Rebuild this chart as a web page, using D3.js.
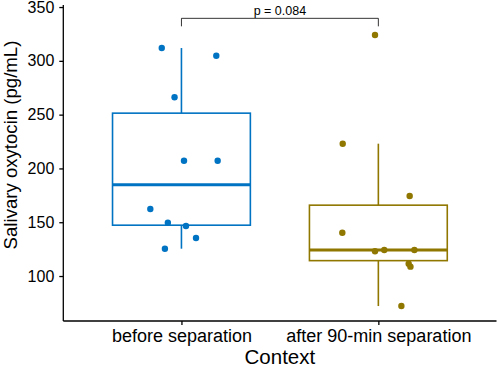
<!DOCTYPE html>
<html>
<head>
<meta charset="utf-8">
<script src="https://cdn.jsdelivr.net/npm/d3@7"></script>
<style>
  html, body { margin: 0; padding: 0; background: #fff; }
  svg { display: block; font-family: "Liberation Sans", Arial, sans-serif; }
</style>
</head>
<body>
<svg id="chart" width="498" height="368"></svg>
<script>
// ---- data ----
const categories = ["before separation", "after 90-min separation"];
const colors = ["#0073C2", "#8F7700"];
const beforeValues = [311.9, 304.7, 266.1, 207.2, 207.2, 162.3, 149.5, 146.5, 135.3, 125.4];
const afterValues  = [324.0, 223.0, 174.4, 140.2, 123.0, 124.2, 124.2, 111.4, 108.7, 72.1];
// horizontal jitter (fraction of category step) as observed
const beforeJitter = [-0.100, 0.177, -0.035, 0.013, 0.184, -0.158, -0.069, 0.023, 0.074, -0.084];
const afterJitter  = [-0.017, -0.181, 0.159, -0.183, -0.017, 0.030, 0.183, 0.154, 0.163, 0.117];
const yTicks = [100, 150, 200, 250, 300, 350];
const pLabel = "p = 0.084";
const bracketValue = 339.5;
const yTitle = "Salivary oxytocin (pg/mL)";
const xTitle = "Context";

const groups = [
  { cat: categories[0], values: beforeValues, jitter: beforeJitter, color: colors[0] },
  { cat: categories[1], values: afterValues,  jitter: afterJitter,  color: colors[1] }
];

// ---- layout ----
const svg = d3.select("#chart");
const panel = { left: 63.3, right: 496.5, top: 5, bottom: 321 };

const x = d3.scalePoint().domain(categories).range([panel.left, panel.right]).padding(0.6);
const step = x.step();
const y = d3.scaleLinear().domain([58.2, 351.9]).range([panel.bottom, panel.top]);
const boxW = step * 0.7;

// ---- boxes ----
groups.forEach(g => {
  const s = g.values.slice().sort(d3.ascending);
  const q1 = d3.quantile(s, 0.25), med = d3.quantile(s, 0.5), q3 = d3.quantile(s, 0.75);
  const iqr = q3 - q1;
  const hi = d3.max(s.filter(v => v <= q3 + 1.5 * iqr));
  const lo = d3.min(s.filter(v => v >= q1 - 1.5 * iqr));
  const cx = x(g.cat);
  const gg = svg.append("g");
  gg.append("line").attr("x1", cx).attr("x2", cx).attr("y1", y(q3)).attr("y2", y(hi))
    .attr("stroke", g.color).attr("stroke-width", 1.6);
  gg.append("line").attr("x1", cx).attr("x2", cx).attr("y1", y(q1)).attr("y2", y(lo))
    .attr("stroke", g.color).attr("stroke-width", 1.6);
  gg.append("rect").attr("x", cx - boxW / 2).attr("width", boxW)
    .attr("y", y(q3)).attr("height", y(q1) - y(q3))
    .attr("fill", "#fff").attr("stroke", g.color).attr("stroke-width", 1.6);
  gg.append("line").attr("x1", cx - boxW / 2).attr("x2", cx + boxW / 2)
    .attr("y1", y(med)).attr("y2", y(med))
    .attr("stroke", g.color).attr("stroke-width", 3);
});

// ---- points ----
groups.forEach(g => {
  svg.append("g").selectAll("circle").data(g.values).join("circle")
    .attr("cx", (d, i) => x(g.cat) + g.jitter[i] * step)
    .attr("cy", d => y(d))
    .attr("r", 3.2)
    .attr("fill", g.color);
});

// ---- axes ----
const yAxis = svg.append("g").attr("transform", `translate(${panel.left},0)`)
  .call(d3.axisLeft(y).tickValues(yTicks).tickSize(4).tickPadding(5));
yAxis.select(".domain").attr("d", `M0,${panel.top}V${panel.bottom}`);
yAxis.selectAll("text").attr("font-size", 16).attr("fill", "#000").attr("font-family", "Liberation Sans, Arial, sans-serif");
yAxis.selectAll("line, path").attr("stroke", "#000").attr("stroke-width", 1.3);

const xAxis = svg.append("g").attr("transform", `translate(0,${panel.bottom})`)
  .call(d3.axisBottom(x).tickSize(4).tickPadding(4));
xAxis.select(".domain").attr("d", `M${panel.left},0H${panel.right}`);
xAxis.selectAll("text").attr("font-size", 18).attr("fill", "#000").attr("font-family", "Liberation Sans, Arial, sans-serif");
xAxis.selectAll("line, path").attr("stroke", "#000").attr("stroke-width", 1.3);

// ---- titles ----
svg.append("text").attr("x", (x(categories[0]) + x(categories[1])) / 2).attr("y", 363.5)
  .attr("text-anchor", "middle").attr("font-size", 20.5).attr("fill", "#000").text(xTitle);
svg.append("text").attr("transform", "translate(17,145) rotate(-90)")
  .attr("text-anchor", "middle").attr("font-size", 18.6).attr("fill", "#000").text(yTitle);

// ---- significance bracket ----
const bx1 = x(categories[0]), bx2 = x(categories[1]), by = y(bracketValue);
svg.append("path")
  .attr("d", `M${bx1},${by + 8}V${by}H${bx2}V${by + 8}`)
  .attr("fill", "none").attr("stroke", "#000").attr("stroke-width", 0.8);
svg.append("text").attr("x", (bx1 + bx2) / 2).attr("y", by - 3)
  .attr("text-anchor", "middle").attr("font-size", 12.5).attr("fill", "#000").text(pLabel);
</script>
</body>
</html>
